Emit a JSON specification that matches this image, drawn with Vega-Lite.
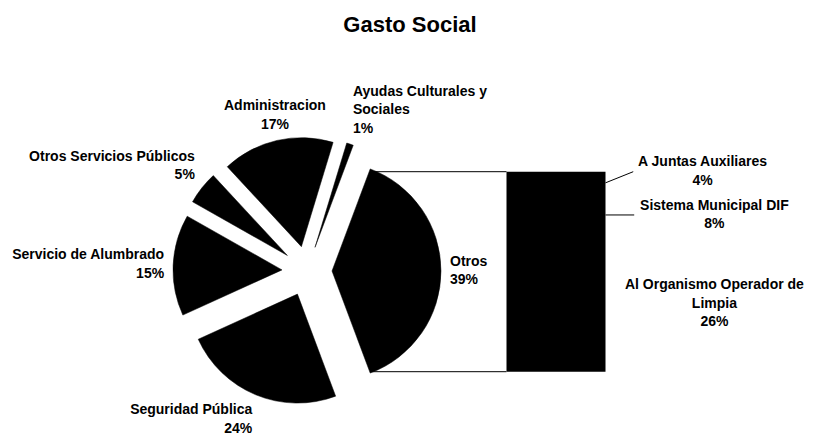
{
  "$schema": "https://vega.github.io/schema/vega-lite/v6.json",
  "width": 814,
  "height": 438,
  "autosize": {"type": "none"},
  "padding": 0,
  "background": "white",
  "title": {"text": "Gasto Social", "font": "Liberation Sans", "fontSize": 22, "fontWeight": "bold", "color": "black", "anchor": "middle", "baseline": "alphabetic", "offset": 0, "dy": 54, "dx": 3},
  "config": {"view": {"stroke": null}},
  "datasets": {
    "pie": [
      {"categoria": "Otros", "etiqueta": "Otros", "valor": 38.6, "orden": 1},
      {"categoria": "Seguridad Pública", "etiqueta": "Seguridad Pública", "valor": 23.9, "orden": 2},
      {"categoria": "Servicio de Alumbrado", "etiqueta": "Servicio de Alumbrado", "valor": 15.0, "orden": 3},
      {"categoria": "Otros Servicios Públicos", "etiqueta": "Otros Servicios Públicos", "valor": 4.9, "orden": 4},
      {"categoria": "Administracion", "etiqueta": "Administracion", "valor": 16.6, "orden": 5},
      {"categoria": "Ayudas Culturales y Sociales", "etiqueta": "Ayudas Culturales y|Sociales", "valor": 1.0, "orden": 6}
    ],
    "barra": [
      {"categoria": "A Juntas Auxiliares", "etiqueta": "A Juntas Auxiliares", "valor": 4.3, "orden": 1},
      {"categoria": "Sistema Municipal DIF", "etiqueta": "Sistema Municipal DIF", "valor": 8.1, "orden": 2},
      {"categoria": "Al Organismo Operador de Limpia", "etiqueta": "Al Organismo Operador de|Limpia", "valor": 26.2, "orden": 3}
    ]
  },
  "layer": [
    {
      "data": {"name": "pie"},
      "transform": [
        {"window": [{"op": "sum", "field": "valor", "as": "fin"}], "sort": [{"field": "orden"}], "frame": [null, 0]},
        {"calculate": "datum.fin - datum.valor", "as": "inicio"},
        {"calculate": "datum.inicio + datum.valor / 2", "as": "medio"},
        {"calculate": "0.35814 + 2 * PI * datum.medio / 100", "as": "ang"},
        {"calculate": "sin(datum.ang)", "as": "ex"},
        {"calculate": "-cos(datum.ang)", "as": "ey"},
        {"calculate": "datum.etiqueta + '|' + format(datum.valor / 100, '.0%')", "as": "texto"},
        {"calculate": "length(split(datum.texto, '|'))", "as": "lineas"}
      ],
      "encoding": {
        "x": {"field": "ex", "type": "quantitative", "scale": {"domain": [-1, 1], "range": [282, 332], "nice": false, "zero": false}, "axis": null},
        "y": {"field": "ey", "type": "quantitative", "scale": {"domain": [-1, 1], "range": [246, 296], "nice": false, "zero": false}, "axis": null}
      },
      "layer": [
        {
          "mark": {"type": "arc", "outerRadius": 109, "fill": "black", "stroke": "black", "strokeWidth": 0.5},
          "encoding": {
            "theta": {"field": "inicio", "type": "quantitative", "scale": {"domain": [0, 100], "range": [0.35814, 6.64133]}},
            "theta2": {"field": "fin"}
          }
        },
        {
          "mark": {
            "type": "text", "radius": 118, "font": "Liberation Sans", "fontSize": 14, "fontWeight": "bold", "color": "black",
            "lineBreak": "|", "lineHeight": 18.5,
            "align": {"expr": "sin(datum.ang) < -0.3 ? 'right' : (sin(datum.ang) > 0.3 ? 'left' : 'center')"},
            "baseline": {"expr": "-cos(datum.ang) < -0.5 ? 'bottom' : (-cos(datum.ang) > 0.5 ? 'top' : 'middle')"},
            "dy": {"expr": "-cos(datum.ang) < -0.5 ? -(datum.lineas - 1) * 18.5 : (-cos(datum.ang) > 0.5 ? 0 : -(datum.lineas - 1) * 9.25)"}
          },
          "encoding": {
            "theta": {"field": "medio", "type": "quantitative", "scale": {"domain": [0, 100], "range": [0.35814, 6.64133]}},
            "text": {"field": "texto"}
          }
        }
      ]
    },
    {
      "data": {"name": "barra"},
      "transform": [
        {"window": [{"op": "sum", "field": "valor", "as": "fin"}], "sort": [{"field": "orden"}], "frame": [null, 0]},
        {"calculate": "datum.fin - datum.valor", "as": "inicio"},
        {"calculate": "datum.inicio + datum.valor / 2", "as": "medio"},
        {"calculate": "datum.etiqueta + '|' + format(datum.valor / 100, '.0%')", "as": "texto"},
        {"calculate": "length(split(datum.texto, '|'))", "as": "lineas"}
      ],
      "layer": [
        {
          "mark": {"type": "rect", "fill": "black"},
          "encoding": {
            "x": {"datum": 0, "type": "quantitative", "scale": {"domain": [0, 1], "range": [506.5, 605.5], "nice": false, "zero": false}, "axis": null},
            "x2": {"datum": 1},
            "y": {"field": "inicio", "type": "quantitative", "scale": {"domain": [0, 38.6], "range": [171.7, 371.7], "nice": false, "zero": false}, "axis": null},
            "y2": {"field": "fin"}
          }
        },
        {
          "transform": [{"filter": "datum.orden == 1"}],
          "mark": {"type": "rule", "color": "black", "strokeWidth": 1},
          "encoding": {
            "x": {"datum": -1.379, "type": "quantitative", "scale": {"domain": [0, 1], "range": [506.5, 605.5], "nice": false, "zero": false}, "axis": null},
            "x2": {"datum": 0},
            "y": {"field": "inicio", "type": "quantitative", "scale": {"domain": [0, 38.6], "range": [171.7, 371.7], "nice": false, "zero": false}, "axis": null}
          }
        },
        {
          "transform": [{"filter": "datum.orden == 3"}],
          "mark": {"type": "rule", "color": "black", "strokeWidth": 1},
          "encoding": {
            "x": {"datum": -1.379, "type": "quantitative", "scale": {"domain": [0, 1], "range": [506.5, 605.5], "nice": false, "zero": false}, "axis": null},
            "x2": {"datum": 0},
            "y": {"field": "fin", "type": "quantitative", "scale": {"domain": [0, 38.6], "range": [171.7, 371.7], "nice": false, "zero": false}, "axis": null}
          }
        },
        {
          "transform": [{"filter": "datum.orden == 1"}],
          "mark": {"type": "rule", "color": "black", "strokeWidth": 1},
          "encoding": {
            "x": {"datum": 1, "type": "quantitative", "scale": {"domain": [0, 1], "range": [506.5, 605.5], "nice": false, "zero": false}, "axis": null},
            "x2": {"datum": 1.28},
            "y": {"field": "medio", "type": "quantitative", "scale": {"domain": [0, 38.6], "range": [171.7, 371.7], "nice": false, "zero": false}, "axis": null},
            "y2": {"field": "inicio"}
          }
        },
        {
          "transform": [{"filter": "datum.orden == 2"}],
          "mark": {"type": "rule", "color": "black", "strokeWidth": 1},
          "encoding": {
            "x": {"datum": 1, "type": "quantitative", "scale": {"domain": [0, 1], "range": [506.5, 605.5], "nice": false, "zero": false}, "axis": null},
            "x2": {"datum": 1.29},
            "y": {"field": "medio", "type": "quantitative", "scale": {"domain": [0, 38.6], "range": [171.7, 371.7], "nice": false, "zero": false}, "axis": null}
          }
        },
        {
          "transform": [{"filter": "datum.orden == 1"}],
          "mark": {"type": "text", "font": "Liberation Sans", "fontSize": 14, "fontWeight": "bold", "color": "black", "lineBreak": "|", "lineHeight": 18.5, "align": "center", "baseline": "middle", "dy": {"expr": "-(datum.lineas - 1) * 9.25"}},
          "encoding": {
            "x": {"datum": 1.98, "type": "quantitative", "scale": {"domain": [0, 1], "range": [506.5, 605.5], "nice": false, "zero": false}, "axis": null},
            "y": {"field": "inicio", "type": "quantitative", "scale": {"domain": [0, 38.6], "range": [171.7, 371.7], "nice": false, "zero": false}, "axis": null},
            "text": {"field": "texto"}
          }
        },
        {
          "transform": [{"filter": "datum.orden != 1"}],
          "mark": {"type": "text", "font": "Liberation Sans", "fontSize": 14, "fontWeight": "bold", "color": "black", "lineBreak": "|", "lineHeight": 18.5, "align": "center", "baseline": "middle", "dy": {"expr": "-(datum.lineas - 1) * 9.25"}},
          "encoding": {
            "x": {"datum": 2.1, "type": "quantitative", "scale": {"domain": [0, 1], "range": [506.5, 605.5], "nice": false, "zero": false}, "axis": null},
            "y": {"field": "medio", "type": "quantitative", "scale": {"domain": [0, 38.6], "range": [171.7, 371.7], "nice": false, "zero": false}, "axis": null},
            "text": {"field": "texto"}
          }
        }
      ]
    }
  ],
  "resolve": {"scale": {"x": "independent", "y": "independent"}}
}
